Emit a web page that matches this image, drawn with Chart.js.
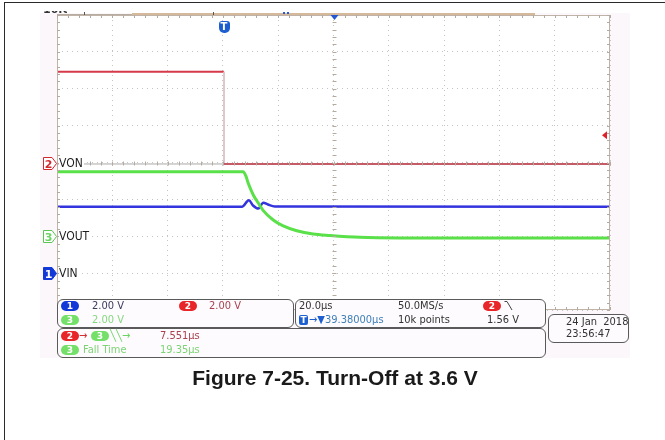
<!DOCTYPE html>
<html>
<head>
<meta charset="utf-8">
<title>Figure 7-25. Turn-Off at 3.6 V</title>
<script src="https://cdn.jsdelivr.net/npm/chart.js@4.4.1/dist/chart.umd.min.js"></script>
<style>
body { margin: 0; background: #fff; }
#wrap { position: relative; width: 665px; height: 440px; overflow: hidden;
  font-family: "DejaVu Sans Condensed", "DejaVu Sans", sans-serif; font-size: 11px; color: #333; }
#frame { position: absolute; left: 4px; top: 2px; width: 700px; height: 500px;
  border-left: 1px solid #2a2a2a; border-top: 1px solid #2a2a2a; }
#screen { position: absolute; left: 40px; top: 13px; width: 590px; height: 345px; background: #fbf7fb; }
#scope { position: absolute; left: 0; top: 0; }
.box { position: absolute; border: 1px solid #5a5a5a; border-radius: 6px; background: #fdfbfd; }
.t { position: absolute; white-space: nowrap; line-height: 12px; }
.pill { position: absolute; width: 18px; height: 10px; border-radius: 5px; color: #fff;
  font: bold 9px "DejaVu Sans", sans-serif; line-height: 10px; text-align: center; }
.p1 { background: #1238d8; }
.p2 { background: #e8262a; }
.p3 { background: #74e06a; }
.chmark { position: absolute; left: 43px; width: 14px; height: 13px; }
.chlabel { position: absolute; left: 59px; font-size: 12px; color: #1e1e1e; line-height: 13px;
  background: #fff; padding-right: 1px; }
#tmark { position: absolute; top: 21px; width: 11px; height: 12px; border-radius: 3px 3px 5px 5px;
  background: #1d5fd0; color: #fff; font: bold 10px "DejaVu Sans", sans-serif; line-height: 12px; text-align: center; }
#cut { position: absolute; left: 43px; top: 11px; width: 24px; height: 4px; overflow: hidden; }
#cut span { position: absolute; left: 0; top: -8px; font: bold 11px "DejaVu Sans", sans-serif; color: #333; }
#title { position: absolute; left: 0; top: 366px; width: 670px; text-align: center;
  font: bold 21px "Liberation Sans", Arial, sans-serif; color: #1a1a1a; line-height: 24px; }
</style>
</head>
<body>
<div id="wrap">
  <div id="frame"></div>
  <div id="screen"></div>
  <canvas id="scope" width="665" height="440"></canvas>

  <div id="cut"><span>10.0</span></div>
  <div id="tmark">T</div>

  <svg class="chmark" id="m2" viewBox="0 0 14 13"><polygon points="0.5,0.5 9,0.5 13.5,6.5 9,12.5 0.5,12.5" fill="#fff" stroke="#d02a30"/><text x="5.5" y="10.5" font-size="11" font-weight="bold" fill="#d02a30" text-anchor="middle" font-family="DejaVu Sans">2</text></svg>
  <div class="chlabel" id="l2">VON</div>
  <svg class="chmark" id="m3" viewBox="0 0 14 13"><polygon points="0.5,0.5 9,0.5 13.5,6.5 9,12.5 0.5,12.5" fill="#fff" stroke="#5cc452"/><text x="5.5" y="10.5" font-size="11" font-weight="bold" fill="#6cd462" text-anchor="middle" font-family="DejaVu Sans">3</text></svg>
  <div class="chlabel" id="l3">VOUT</div>
  <svg class="chmark" id="m1" viewBox="0 0 14 13"><polygon points="0.5,0.5 9,0.5 13.5,6.5 9,12.5 0.5,12.5" fill="#1238d8" stroke="#1238d8"/><text x="5.5" y="10.5" font-size="11" font-weight="bold" fill="#fff" text-anchor="middle" font-family="DejaVu Sans">1</text></svg>
  <div class="chlabel" id="l1">VIN</div>

  <div class="box" style="left:57px;top:299px;width:235px;height:27px;"></div>
  <div class="box" style="left:295px;top:299px;width:249px;height:27px;"></div>
  <div class="box" style="left:57px;top:328px;width:487px;height:28px;"></div>
  <div class="box" style="left:548px;top:314px;width:79px;height:27px;"></div>

  <div class="pill p1" style="left:61px;top:301px;">1</div>
  <div class="t" style="left:92px;top:300px;color:#3a3a5e;">2.00 V</div>
  <div class="pill p2" style="left:179px;top:301px;">2</div>
  <div class="t" style="left:209px;top:300px;color:#a8424e;">2.00 V</div>
  <div class="pill p3" style="left:61px;top:315px;">3</div>
  <div class="t" style="left:92px;top:314px;color:#86d880;">2.00 V</div>

  <div class="t" style="left:299px;top:300px;">20.0µs</div>
  <div class="t" style="left:398px;top:300px;">50.0MS/s</div>
  <div class="pill p2" style="left:483px;top:301px;">2</div>
  <svg style="position:absolute;left:504px;top:300px;" width="10" height="11"><polyline points="0.5,1.5 3,1.5 8,10" fill="none" stroke="#444" stroke-width="1"/></svg>
  <div class="t" style="left:299px;top:315px;width:9px;height:10px;background:#1d5fd0;color:#fff;font:bold 9px 'DejaVu Sans',sans-serif;line-height:10px;text-align:center;border-radius:2px;">T</div>
  <div class="t" style="left:309px;top:314px;color:#3f7fb8;"><span style="color:#1d5fd0">→▼</span>39.38000µs</div>
  <div class="t" style="left:398px;top:314px;">10k points</div>
  <div class="t" style="left:487px;top:314px;">1.56 V</div>

  <div class="pill p2" style="left:61px;top:331px;">2</div>
  <div class="t" style="left:79px;top:330px;color:#d03030;">→</div>
  <div class="pill p3" style="left:91px;top:331px;">3</div>
  <div class="t" style="left:110px;top:330px;color:#6cd462;">╲╲→</div>
  <div class="t" style="left:160px;top:330px;color:#a8424e;">7.551µs</div>
  <div class="pill p3" style="left:61px;top:345px;">3</div>
  <div class="t" style="left:83px;top:344px;color:#7cd474;">Fall Time</div>
  <div class="t" style="left:160px;top:344px;color:#7cd474;">19.35µs</div>

  <div class="t" style="left:566px;top:316px;">24 Jan&nbsp; 2018</div>
  <div class="t" style="left:566px;top:328px;">23:56:47</div>

  <div id="title">Figure 7-25. Turn-Off at 3.6 V</div>
</div>

<script>
// time base: 20 µs/div, 10 divisions; every channel 2 V/div
const timeMin = 0;
const timeMax = 200;
const timePerDiv = 20;
const voltsPerDiv = 2;

// vertical position of each channel's ground, in divisions from screen centre
const ch1Offset = -3;
const ch2Offset = -0.04;
const ch3Offset = -2;

const triggerTime = 60.4;
const triggerLevel = 1.56;

// CH2 VON (red)
const ch2Time  = [0, 60.4, 60.4, 200];
const ch2Volts = [5.0, 5.0, 0.0, 0.0];

// CH3 VOUT (green)
const ch3Time  = [0, 67.3, 68.3, 69.2, 71.0, 72.8, 74.6, 78.2, 81.8, 86.7, 92.6, 98.7, 109.6, 124, 200];
const ch3Volts = [3.5, 3.5, 3.27, 2.86, 2.24, 1.80, 1.39, 0.88, 0.56, 0.30, 0.12, 0.04, -0.06, -0.09, -0.09];

// CH1 VIN (blue)
const ch1Time  = [0, 66.9, 69.4, 70.9, 72.8, 74.6, 76.3, 78.8, 200];
const ch1Volts = [3.6, 3.6, 3.95, 3.67, 3.5, 3.82, 3.72, 3.62, 3.6];

function toPoints(times, volts, offset) {
    return times.map((t, i) => ({ x: t, y: offset + volts[i] / voltsPerDiv }));
}

const scopeDecor = {
    id: 'scopeDecor',
    beforeDraw(chart) {
        const { ctx, chartArea: a } = chart;
        ctx.save();
        ctx.fillStyle = '#ffffff';
        ctx.fillRect(a.left, a.top, a.right - a.left, a.bottom - a.top);
        ctx.restore();
    },
    afterDraw(chart) {
        const { ctx, chartArea: a, scales: { x, y } } = chart;
        ctx.save();

        // record bar above the graticule
        ctx.strokeStyle = '#b8aca0';
        ctx.lineWidth = 1;
        ctx.beginPath();
        ctx.moveTo(a.left, 14.5);
        ctx.lineTo(132, 14.5);
        ctx.stroke();
        ctx.strokeStyle = '#d6b89a';
        ctx.lineWidth = 2;
        ctx.beginPath();
        ctx.moveTo(132, 14);
        ctx.lineTo(535, 14);
        ctx.stroke();
        ctx.fillStyle = '#555';
        ctx.fillRect(84, 12, 1, 3);
        ctx.fillRect(213, 12, 1, 3);
        ctx.fillStyle = '#2a5ad0';
        ctx.fillRect(283, 12, 2, 2);
        ctx.fillRect(287, 12, 2, 2);

        // graticule frame
        ctx.strokeStyle = '#c0b4a8';
        ctx.lineWidth = 1;
        ctx.strokeRect(a.left + 0.5, a.top + 0.5, a.right - a.left - 1, a.bottom - a.top - 1);

        // minor ticks on frame and centre lines (5 per division)
        ctx.strokeStyle = '#b4aaa0';
        ctx.beginPath();
        const cx = Math.round(x.getPixelForValue((timeMin + timeMax) / 2)) + 0.5;
        const cy = Math.round(y.getPixelForValue(0)) + 0.5;
        const nx = (timeMax - timeMin) / timePerDiv * 5;
        for (let i = 0; i <= nx; i++) {
            const px = Math.round(x.getPixelForValue(timeMin + i * timePerDiv / 5)) + 0.5;
            ctx.moveTo(px, a.top); ctx.lineTo(px, a.top + 3);
            ctx.moveTo(px, a.bottom); ctx.lineTo(px, a.bottom - 3);
            ctx.moveTo(px, cy - 2); ctx.lineTo(px, cy + 2);
        }
        for (let i = 0; i <= 40; i++) {
            const py = Math.round(y.getPixelForValue(-4 + i / 5)) + 0.5;
            ctx.moveTo(a.left, py); ctx.lineTo(a.left + 3, py);
            ctx.moveTo(a.right, py); ctx.lineTo(a.right - 3, py);
            ctx.moveTo(cx - 2, py); ctx.lineTo(cx + 2, py);
        }
        ctx.stroke();

        // expansion point marker (top centre)
        ctx.fillStyle = '#2358d0';
        ctx.beginPath();
        ctx.moveTo(cx - 4, a.top);
        ctx.lineTo(cx + 4, a.top);
        ctx.lineTo(cx, a.top + 5);
        ctx.closePath();
        ctx.fill();

        // CH2 trigger level marker (right edge)
        const ty = y.getPixelForValue(ch2Offset + triggerLevel / voltsPerDiv);
        ctx.fillStyle = '#e0202a';
        ctx.beginPath();
        ctx.moveTo(a.right - 8, ty);
        ctx.lineTo(a.right - 3, ty - 4);
        ctx.lineTo(a.right - 3, ty + 4);
        ctx.closePath();
        ctx.fill();

        ctx.restore();
    }
};

const ctx = document.getElementById('scope').getContext('2d');
const scopeChart = new Chart(ctx, {
    type: 'line',
    data: {
        datasets: [
            {
                label: 'VON',
                data: toPoints(ch2Time, ch2Volts, ch2Offset),
                borderColor: 'rgb(214, 58, 74)',
                borderWidth: 2,
                segment: {
                    borderColor: c => c.p0.parsed.x === c.p1.parsed.x ? '#dcc0c4'
                        : (c.p0.parsed.y < 1 ? 'rgba(196, 78, 92, 0.9)' : undefined),
                    borderWidth: c => c.p0.parsed.x === c.p1.parsed.x ? 1 : undefined
                }
            },
            {
                label: 'VOUT',
                data: toPoints(ch3Time, ch3Volts, ch3Offset),
                borderColor: 'rgb(90, 224, 72)',
                borderWidth: 3,
                cubicInterpolationMode: 'monotone'
            },
            {
                label: 'VIN',
                data: toPoints(ch1Time, ch1Volts, ch1Offset),
                borderColor: 'rgb(52, 52, 222)',
                borderWidth: 2.5,
                cubicInterpolationMode: 'monotone'
            },
            {
                label: 'VON ref',
                data: [{ x: timeMin, y: ch2Offset }, { x: timeMax, y: ch2Offset }],
                borderColor: '#a8a8a8',
                borderWidth: 1
            }
        ]
    },
    options: {
        responsive: false,
        animation: false,
        events: [],
        layout: { padding: { left: 57, right: 55, top: 15, bottom: 130 } },
        elements: { point: { radius: 0 }, line: { tension: 0 } },
        plugins: { legend: { display: false }, tooltip: { enabled: false } },
        scales: {
            x: {
                type: 'linear',
                min: timeMin,
                max: timeMax,
                ticks: { display: false, stepSize: timePerDiv },
                grid: { color: '#c4c4c4', drawTicks: false },
                border: { display: false, dash: [1, 4] }
            },
            y: {
                type: 'linear',
                min: -4,
                max: 4,
                ticks: { display: false, stepSize: 1 },
                grid: { color: '#c4c4c4', drawTicks: false },
                border: { display: false, dash: [1, 4] }
            }
        }
    },
    plugins: [scopeDecor]
});

function placeMarkers(chart) {
    const x = chart.scales.x, y = chart.scales.y;
    [['m2', 'l2', ch2Offset], ['m3', 'l3', ch3Offset], ['m1', 'l1', ch1Offset]].forEach(([m, l, off]) => {
        const py = y.getPixelForValue(off);
        document.getElementById(m).style.top = (py - 6.5) + 'px';
        document.getElementById(l).style.top = (py - 6.5) + 'px';
    });
    document.getElementById('tmark').style.left = (x.getPixelForValue(triggerTime) - 5.5) + 'px';
}
placeMarkers(scopeChart);
</script>
</body>
</html>
